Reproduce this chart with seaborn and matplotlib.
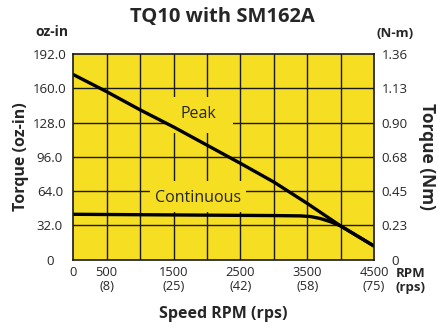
import matplotlib
matplotlib.use("Agg")
import matplotlib.pyplot as plt
from matplotlib.patches import Rectangle
import seaborn as sns
import pandas as pd

# ---- data ----
speed_rpm = [0, 500, 1000, 1500, 2000, 2500, 3000, 3500, 4000, 4500]
peak_torque = [173, 157, 140, 124, 107, 90, 72.5, 52.5, 31.4, 12.6]
cont_rpm = [0, 1000, 2000, 3000, 3400, 3550, 3700, 3850, 4000, 4500]
cont_torque = [42.3, 41.9, 41.5, 41.1, 40.8, 40.2, 38.3, 35.3, 31.4, 12.6]

x_ticks = [0, 500, 1500, 2500, 3500, 4500]
x_tick_labels = ["0", "500\n(8)", "1500\n(25)", "2500\n(42)", "3500\n(58)", "4500\n(75)"]
y_ticks = [0, 32, 64, 96, 128, 160, 192]
y_tick_labels = ["0", "32.0", "64.0", "96.0", "128.0", "160.0", "192.0"]
nm_tick_labels = ["0", "0.23", "0.45", "0.68", "0.90", "1.13", "1.36"]
grid_x = [500, 1000, 1500, 2000, 2500, 3000, 3500, 4000]

peak_df = pd.DataFrame({"rpm": speed_rpm, "torque": peak_torque})
cont_df = pd.DataFrame({"rpm": cont_rpm, "torque": cont_torque})

sns.set_theme(style="white")
plt.rcParams["font.family"] = ["Open Sans", "DejaVu Sans"]

YELLOW = "#F6DE22"
fig = plt.figure(figsize=(4.39, 3.31), dpi=100)
ax = fig.add_axes([0.167, 0.216, 0.685, 0.620])
ax.set_facecolor(YELLOW)
ax.set_xlim(0, 4500)
ax.set_ylim(0, 192)

# grid
for gx in grid_x:
    ax.axvline(gx, color="#1a1a1a", lw=1.0, zorder=1)
for gy in y_ticks[1:-1]:
    ax.axhline(gy, color="#1a1a1a", lw=1.0, zorder=1)

# label background boxes
ax.add_patch(Rectangle((1420, 118.2), 970, 34.3, facecolor=YELLOW, edgecolor="none", zorder=2))
ax.add_patch(Rectangle((1146, 44), 1444, 29, facecolor=YELLOW, edgecolor="none", zorder=2))

sns.lineplot(data=peak_df, x="rpm", y="torque", ax=ax, color="black", lw=2.4, zorder=3)
sns.lineplot(data=cont_df, x="rpm", y="torque", ax=ax, color="black", lw=2.4, zorder=3)

ax.text(1864, 136.3, "Peak", ha="center", va="center", fontsize=11.5, zorder=4)
ax.text(1872, 57.6, "Continuous", ha="center", va="center", fontsize=11.5, zorder=4)

for s in ax.spines.values():
    s.set_color("#1a1a1a")
    s.set_linewidth(1.2)
    s.set_zorder(5)

ax.set_xticks(x_ticks)
ax.set_xticklabels(x_tick_labels, fontsize=9.3, linespacing=1.1)
ax.set_yticks(y_ticks)
ax.set_yticklabels(y_tick_labels, fontsize=9.5, ha="center")
ax.tick_params(axis="both", length=0)
ax.tick_params(axis="y", pad=16.8)
ax.tick_params(axis="x", pad=5)
ax.set_xlabel("Speed RPM (rps)", fontsize=11.5, fontweight="bold", labelpad=9)
ax.set_ylabel("Torque (oz-in)", fontsize=11.5, fontweight="bold", labelpad=3)

ax2 = ax.twinx()
ax2.set_ylim(0, 192)
ax2.set_yticks(y_ticks)
ax2.set_yticklabels(nm_tick_labels, fontsize=9.5, ha="center")
ax2.tick_params(axis="y", length=0, pad=15)
ax2.set_ylabel("Torque (Nm)", fontsize=12.5, fontweight="bold", rotation=270, labelpad=20)
for s in ax2.spines.values():
    s.set_visible(False)

fig.text(0.506, 0.948, "TQ10 with SM162A", ha="center", va="center", fontsize=14.5, fontweight="bold")
fig.text(0.118, 0.903, "oz-in", ha="center", va="center", fontsize=10, fontweight="bold")
fig.text(0.900, 0.900, "(N-m)", ha="center", va="center", fontsize=9.5, fontweight="bold")
fig.text(0.936, 0.154, "RPM\n(rps)", ha="center", va="center", fontsize=9.5, fontweight="bold", linespacing=1.1)

fig.savefig("out.png", dpi=100)
